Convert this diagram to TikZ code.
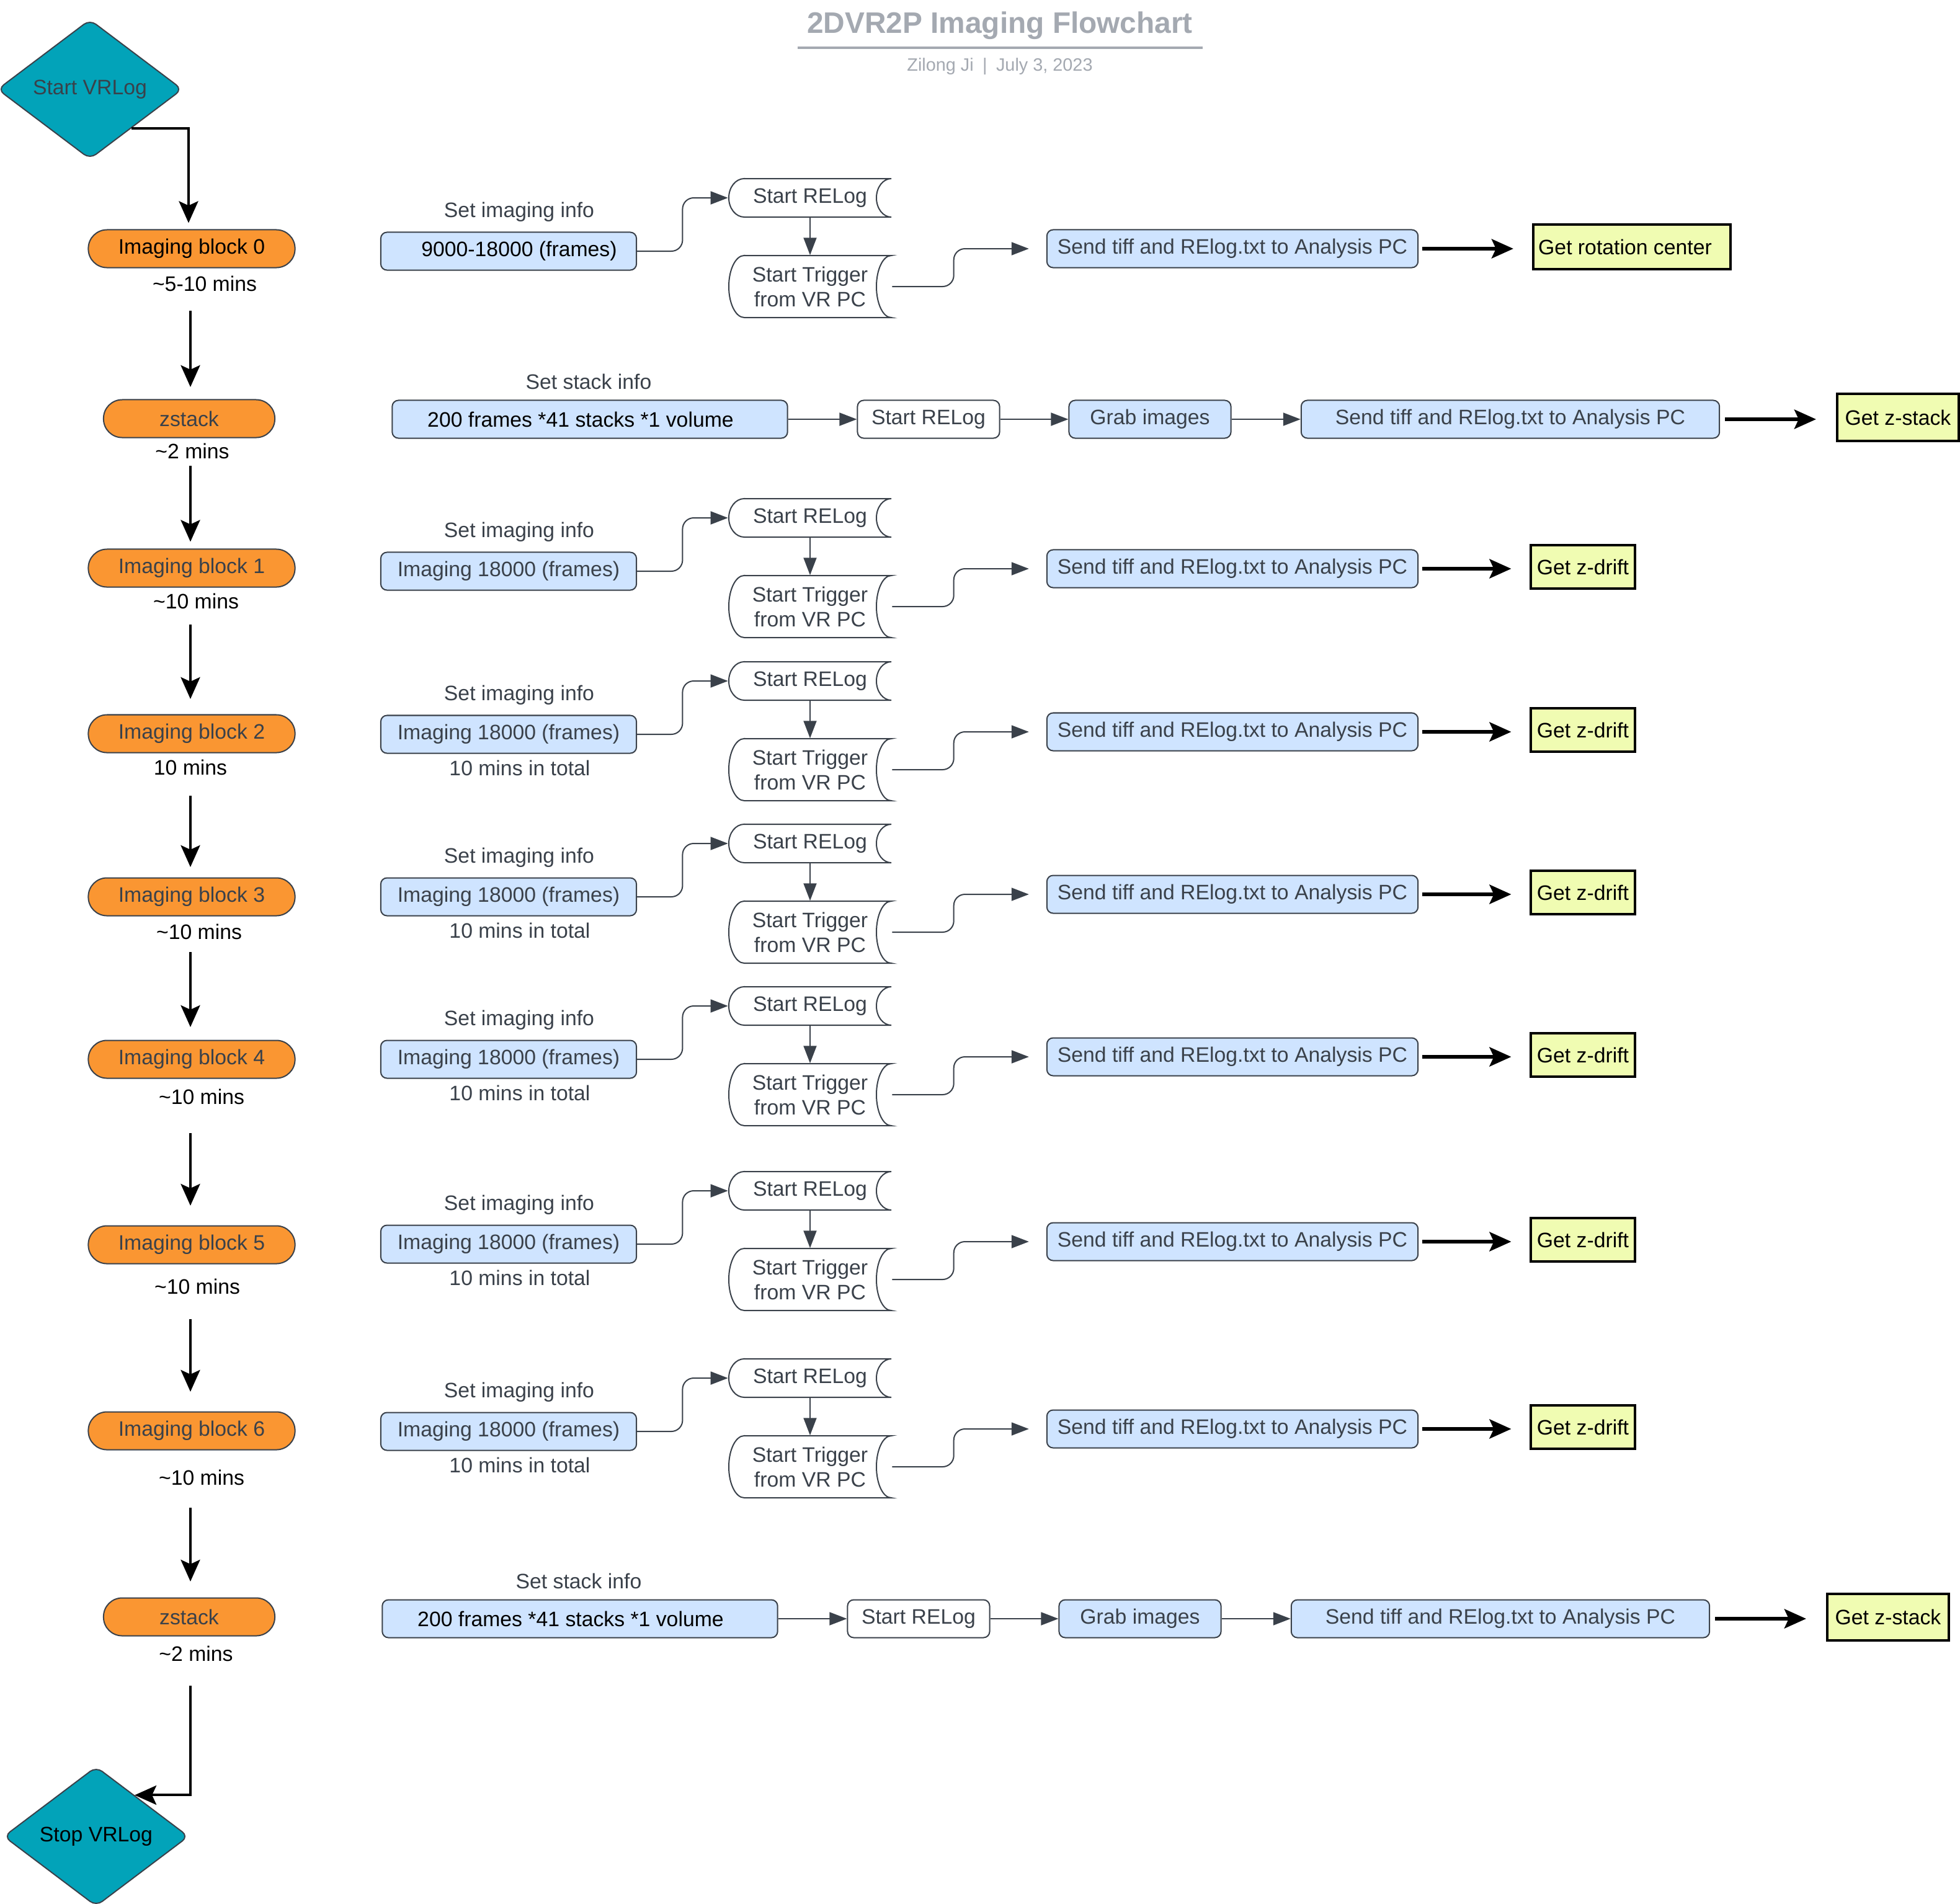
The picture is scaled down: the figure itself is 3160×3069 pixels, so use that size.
\documentclass[tikz,border=0pt]{standalone}
\usepackage{fontspec}
\setmainfont{Liberation Sans}
\usetikzlibrary{arrows.meta,shapes.geometric,calc}

\definecolor{ink}{HTML}{3A414A}
\definecolor{orangefill}{HTML}{FA9632}
\definecolor{tealfill}{HTML}{02A3B9}
\definecolor{paleblue}{HTML}{CFE4FF}
\definecolor{paleyellow}{HTML}{F0FCB2}
\definecolor{titlegray}{HTML}{A4A9B1}

\newcommand\fs{\fontsize{9.6pt}{11.4pt}\selectfont}

\tikzset{
  lbl/.style={font=\fs, text=ink, inner sep=0pt},
  note/.style={font=\fs, text=black, inner sep=0pt},
  lane/.style={draw=ink, line width=0.02cm, fill=orangefill, rounded corners=0.3cm,
    minimum height=0.61cm, inner sep=0pt, font=\fs},
  infobox/.style={draw=ink, line width=0.02cm, fill=paleblue, rounded corners=0.1cm,
    minimum height=0.61cm, inner sep=0pt, font=\fs},
  plainbox/.style={infobox, fill=white},
  result/.style={draw=black, line width=0.04cm, fill=paleyellow, minimum height=0.7cm,
    inner sep=0pt, font=\fs, text=black},
  terminal/.style={diamond, draw=ink, line width=0.02cm, fill=tealfill, minimum width=2.98cm,
    minimum height=2.25cm, rounded corners=0.12cm, inner sep=0pt, font=\fs},
  conn/.style={draw=ink, line width=0.02cm, -{Triangle[length=0.28cm,width=0.21cm]}},
  flow/.style={draw=black, line width=0.04cm, -{Stealth[length=0.35cm,width=0.31cm,inset=0.07cm]}},
  bigflow/.style={flow, line width=0.055cm},
}

% stored-data symbol: convex left side, concave right side
% #1 name, #2 x, #3 y, #4 half height (units), #5 half height (cm), #6 text
\newcommand\storedshape[6]{%
  \draw[ink, line width=0.02cm, fill=white]
    (#2-106,#3-#4) -- (#2+131,#3-#4)
    arc[start angle=90, end angle=270, x radius=0.24cm, y radius=#5]
    -- (#2-106,#3+#4)
    arc[start angle=270, end angle=90, x radius=0.25cm, y radius=#5]
    -- cycle;
  \node[lbl, align=center, minimum width=2.63cm, minimum height=2*#5] (#1) at (#2,#3) {#6};
}

% one imaging row: #1 id, #2 row y, #3 frame text, #4 result x, #5 result options, #6 result text
\newcommand\imgrow[6]{%
  \node[lbl] (set#1) at (837,#2-63) {Set imaging info};
  \node[infobox, minimum width=4.12cm] (box#1) at (820,#2) {#3};
  \storedshape{rel#1}{1306}{#2-86}{31}{0.31cm}{Start RELog}
  \storedshape{trg#1}{1306}{#2+57}{50}{0.5cm}{Start Trigger\\from VR PC}
  \node[infobox, text=ink, minimum width=5.98cm] (snd#1) at (1987,#2-4) {Send tiff and RElog.txt to Analysis PC};
  \node[result, #5] (get#1) at (#4,#2-7) {#6};
  \coordinate (bm#1) at ($(box#1.east)!0.5!(rel#1.west)$);
  \coordinate (tm#1) at ($(trg#1.east)!0.4!(snd#1.west)$);
  \draw[conn, rounded corners=0.18cm] (box#1.east) -| (bm#1 |- rel#1.west) -- (rel#1.west);
  \draw[conn] (rel#1.south) -- (trg#1.north);
  \draw[conn, rounded corners=0.18cm, shorten >=0.28cm] (trg#1.east) -| (tm#1 |- snd#1.west) -- (snd#1.west);
  \draw[bigflow, shorten <=0.06cm, shorten >=0.3cm] (snd#1.east) -- (snd#1.east -| get#1.west);
}

% one z-stack row: #1 id, #2 row y
\newcommand\stackrow[2]{%
  \node[lbl] (sset#1) at (949,#2-61) {Set stack info};
  \node[infobox, minimum width=6.37cm] (sbox#1) at (951,#2) {200 frames *41 stacks *1 volume\hspace*{0.3cm}};
  \node[plainbox, text=ink, minimum width=2.29cm] (srel#1) at (1497,#2) {Start RELog};
  \node[infobox, text=ink, minimum width=2.61cm] (grab#1) at (1854,#2) {Grab images};
  \node[infobox, text=ink, minimum width=6.74cm] (ssnd#1) at (2435,#2) {Send tiff and RElog.txt to Analysis PC};
  \node[result, minimum width=1.96cm, minimum height=0.75cm] (sget#1) at (3060,#2-3) {Get z-stack};
  \draw[conn] (sbox#1.east) -- (srel#1.west);
  \draw[conn] (srel#1.east) -- (grab#1.west);
  \draw[conn] (grab#1.east) -- (ssnd#1.west);
  \draw[bigflow, shorten <=0.08cm, shorten >=0.32cm] (ssnd#1.east) -- (ssnd#1.east -| sget#1.west);
}

\begin{document}
\begin{tikzpicture}[x=0.01cm, y=-0.01cm]
\useasboundingbox (0,0) rectangle (3160,3069);
\fill[white] (0,0) rectangle (3160,3069);

% heading
\node[anchor=base, font=\fontsize{13.6pt}{16pt}\selectfont\bfseries, text=titlegray] (title) at (1612,53) {2DVR2P Imaging Flowchart};
\coordinate (ruleL) at (1286,77);
\coordinate (ruleR) at (1939,77);
\draw[titlegray, line width=0.04cm] (ruleL) -- (ruleR);
\node[anchor=base, font=\fontsize{8.2pt}{10pt}\selectfont, text=titlegray] (byline) at (1612,114) {Zilong Ji\enspace|\enspace July 3, 2023};

% main sequence
\coordinate (colx) at (307,0);
\node[terminal, text=ink] (start) at (145,144) {Start VRLog};
\node[lane, minimum width=3.33cm, text=black] (b0) at (309,401) {Imaging block 0};
\node[note] (t0) at (330,457) {\textasciitilde5-10 mins};
\node[lane, minimum width=2.76cm, text=ink] (z1) at (305,675) {zstack};
\node[note] (tz1) at (310,727) {\textasciitilde2 mins};
\node[lane, minimum width=3.33cm, text=ink] (b1) at (309,916) {Imaging block 1};
\node[note] (t1) at (316,969) {\textasciitilde10 mins};
\node[lane, minimum width=3.33cm, text=ink] (b2) at (309,1183) {Imaging block 2};
\node[note] (t2) at (307,1237) {10 mins};
\node[lane, minimum width=3.33cm, text=ink] (b3) at (309,1446) {Imaging block 3};
\node[note] (t3) at (321,1502) {\textasciitilde10 mins};
\node[lane, minimum width=3.33cm, text=ink] (b4) at (309,1708) {Imaging block 4};
\node[note] (t4) at (325,1768) {\textasciitilde10 mins};
\node[lane, minimum width=3.33cm, text=ink] (b5) at (309,2007) {Imaging block 5};
\node[note] (t5) at (318,2074) {\textasciitilde10 mins};
\node[lane, minimum width=3.33cm, text=ink] (b6) at (309,2307) {Imaging block 6};
\node[note] (t6) at (325,2382) {\textasciitilde10 mins};
\node[lane, minimum width=2.76cm, text=ink] (z2) at (305,2607) {zstack};
\node[note] (tz2) at (316,2666) {\textasciitilde2 mins};
\node[terminal, text=black] (stop) at (155,2961) {Stop VRLog};

\draw[flow, shorten >=0.1cm] (start.-43) -| ([xshift=-0.05cm]b0.north);
\draw[flow, shorten <=0.685cm, shorten >=0.195cm] (b0.south -| colx) -- (z1.north -| colx);
\draw[flow, shorten <=0.445cm, shorten >=0.11cm] (z1.south -| colx) -- (b1.north -| colx);
\draw[flow, shorten <=0.595cm, shorten >=0.245cm] (b1.south -| colx) -- (b2.north -| colx);
\draw[flow, shorten <=0.685cm, shorten >=0.165cm] (b2.south -| colx) -- (b3.north -| colx);
\draw[flow, shorten <=0.575cm, shorten >=0.205cm] (b3.south -| colx) -- (b4.north -| colx);
\draw[flow, shorten <=0.875cm, shorten >=0.315cm] (b4.south -| colx) -- (b5.north -| colx);
\draw[flow, shorten <=0.885cm, shorten >=0.315cm] (b5.south -| colx) -- (b6.north -| colx);
\draw[flow, shorten <=0.925cm, shorten >=0.255cm] (b6.south -| colx) -- (z2.north -| colx);
\draw[flow, shorten <=0.795cm] (z2.south -| colx) |- (stop.47);

% imaging rows
\imgrow{0}{405}{\hspace*{0.34cm}9000-18000 (frames)}{2631}{minimum width=3.18cm, minimum height=0.72cm}{Get rotation center\hspace*{0.22cm}}
\imgrow{1}{921}{\textcolor{ink}{Imaging 18000 (frames)}}{2552}{minimum width=1.67cm}{Get z-drift}
\imgrow{2}{1184}{\textcolor{ink}{Imaging 18000 (frames)}}{2552}{minimum width=1.67cm}{Get z-drift}
\imgrow{3}{1446}{\textcolor{ink}{Imaging 18000 (frames)}}{2552}{minimum width=1.67cm}{Get z-drift}
\imgrow{4}{1708}{\textcolor{ink}{Imaging 18000 (frames)}}{2552}{minimum width=1.67cm}{Get z-drift}
\imgrow{5}{2006}{\textcolor{ink}{Imaging 18000 (frames)}}{2552}{minimum width=1.67cm}{Get z-drift}
\imgrow{6}{2308}{\textcolor{ink}{Imaging 18000 (frames)}}{2552}{minimum width=1.67cm}{Get z-drift}

\node[lbl] (tot2) at (838,1238) {10 mins in total};
\node[lbl] (tot3) at (838,1500) {10 mins in total};
\node[lbl] (tot4) at (838,1762) {10 mins in total};
\node[lbl] (tot5) at (838,2060) {10 mins in total};
\node[lbl] (tot6) at (838,2362) {10 mins in total};

% z-stack rows
\stackrow{1}{676}
\begin{scope}[xshift=-0.16cm]
\stackrow{2}{2610}
\end{scope}

\end{tikzpicture}
\end{document}
